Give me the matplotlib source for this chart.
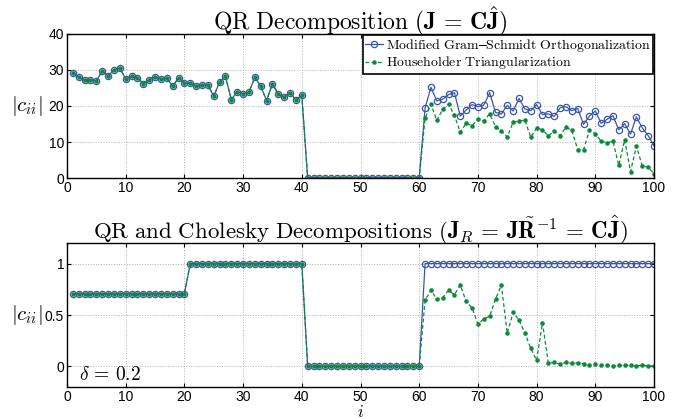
import numpy as np
import matplotlib
matplotlib.use('Agg')
import matplotlib.pyplot as plt

plt.rcParams['mathtext.fontset'] = 'cm'
plt.rcParams['font.family'] = ['Liberation Sans', 'DejaVu Sans']

i = np.arange(1, 101)

# top plot, |c_ii| for i = 1..40 (both methods agree)
top_first = [29.3, 28.0, 27.1, 27.3, 27.0, 29.7, 28.4, 30.0, 30.5, 27.5,
             28.2, 27.9, 26.2, 27.3, 28.1, 27.5, 27.7, 25.5, 27.8, 26.4,
             26.4, 25.5, 25.9, 25.9, 22.7, 26.7, 28.2, 21.7, 24.0, 23.4,
             23.8, 28.0, 25.5, 21.5, 26.2, 23.2, 22.5, 23.7, 21.7, 23.0]
top_zero = [0.0] * 20
mgs_tail = [19.4, 25.2, 21.4, 21.9, 23.2, 23.7, 17.2, 18.9, 20.4, 19.8,
            20.2, 23.7, 18.2, 17.8, 20.2, 18.6, 22.1, 19.2, 18.7, 20.4,
            17.6, 17.8, 17.1, 19.5, 19.8, 18.7, 19.3, 14.9, 17.2, 18.6,
            15.2, 16.3, 17.3, 13.4, 15.1, 12.2, 17.0, 13.9, 11.8, 9.0]
hh_tail = [16.6, 20.5, 16.0, 19.1, 20.5, 17.4, 12.7, 15.2, 14.5, 16.3,
           15.9, 17.8, 14.3, 13.0, 11.4, 15.5, 15.8, 16.1, 11.3, 13.9,
           13.4, 11.7, 13.0, 11.8, 14.1, 13.2, 7.9, 7.9, 13.2, 12.3,
           10.2, 9.8, 10.2, 3.5, 10.6, 1.8, 8.8, 3.4, 3.0, 1.2]

top_mgs = top_first + top_zero + mgs_tail
top_hh = top_first + top_zero + hh_tail

# bottom plot
bot_first = [0.7071] * 20 + [1.0] * 20 + [0.0] * 20
bot_mgs_tail = [1.0] * 40
bot_hh_tail = [0.643, 0.740, 0.653, 0.669, 0.740, 0.698, 0.791, 0.633, 0.569, 0.412,
               0.460, 0.489, 0.653, 0.791, 0.322, 0.527, 0.450, 0.325, 0.177, 0.058,
               0.424, 0.032, 0.039, 0.023, 0.039, 0.029, 0.032, 0.026, 0.013, 0.023,
               0.016, 0.010, 0.003, 0.013, 0.010, 0.010, 0.006, 0.010, 0.006, 0.003]
bot_mgs = bot_first + bot_mgs_tail
bot_hh = bot_first + bot_hh_tail

blue = '#3a56a8'
green = '#0a8a3a'

fig = plt.figure(figsize=(6.89, 4.19), dpi=100)
ax1 = fig.add_axes([67/689, 1 - 178/419, 587/689, 144/419])
ax2 = fig.add_axes([67/689, 1 - 387/419, 587/689, 144/419])

for ax, ym, yh in [(ax1, top_mgs, top_hh), (ax2, bot_mgs, bot_hh)]:
    ax.plot(i, ym, '-o', color=blue, lw=0.9, ms=4.5, mfc='none', mew=0.9,
            label='$\\mathrm{Modified\\ Gram}$–$\\mathrm{Schmidt\\ Orthogonalization}$')
    ax.plot(i, yh, '--', color=green, lw=0.9, dashes=(3, 2), marker='.', ms=4.5,
            label='$\\mathrm{Householder\\ Triangularization}$')
    ax.set_xlim(0, 100)
    ax.set_xticks(range(0, 101, 10))
    ax.grid(True, linestyle=':', color='#b0b0b0', lw=0.7)
    ax.tick_params(direction='in', top=True, right=True, labelsize=10, length=3, pad=2)
    ax.yaxis.set_label_coords(-0.068, 0.5)
    for s in ax.spines.values():
        s.set_linewidth(1.0)

ax1.set_ylim(0, 40)
ax1.set_yticks(range(0, 41, 10))
ax1.set_title('$\\mathrm{QR\\ Decomposition\\ }(\\mathbf{J}\\,=\\,\\mathbf{C}\\hat{\\mathbf{J}})$',
              fontsize=17, pad=3)
ax1.set_ylabel('$|c_{ii}|$', fontsize=15, rotation=0, va='center')
leg = ax1.legend(loc='upper right', fontsize=10, fancybox=False, framealpha=1,
                 edgecolor='black', borderpad=0.15, labelspacing=0.05,
                 handlelength=1.3, handletextpad=0.2, borderaxespad=0.05)
leg.get_frame().set_linewidth(1.2)

ax2.set_ylim(-0.2, 1.2)
ax2.set_yticks([0, 0.5, 1])
ax2.set_yticklabels(['0', '0.5', '1'])
ax2.set_title('$\\mathrm{QR\\ and\\ Cholesky\\ Decompositions\\ }(\\mathbf{J}_R\\,=\\,\\mathbf{J}\\tilde{\\mathbf{R}}^{-1}\\,=\\,\\mathbf{C}\\hat{\\mathbf{J}})$',
              fontsize=16.5, pad=3)
ax2.set_ylabel('$|c_{ii}|$', fontsize=15, rotation=0, va='center')
ax2.set_xlabel('$i$', fontsize=12)
ax2.xaxis.set_label_coords(0.5, -0.115)
ax2.text(2, -0.13, '$\\delta\\,=\\,0.2$', fontsize=14)

fig.savefig('out.png', dpi=100)
